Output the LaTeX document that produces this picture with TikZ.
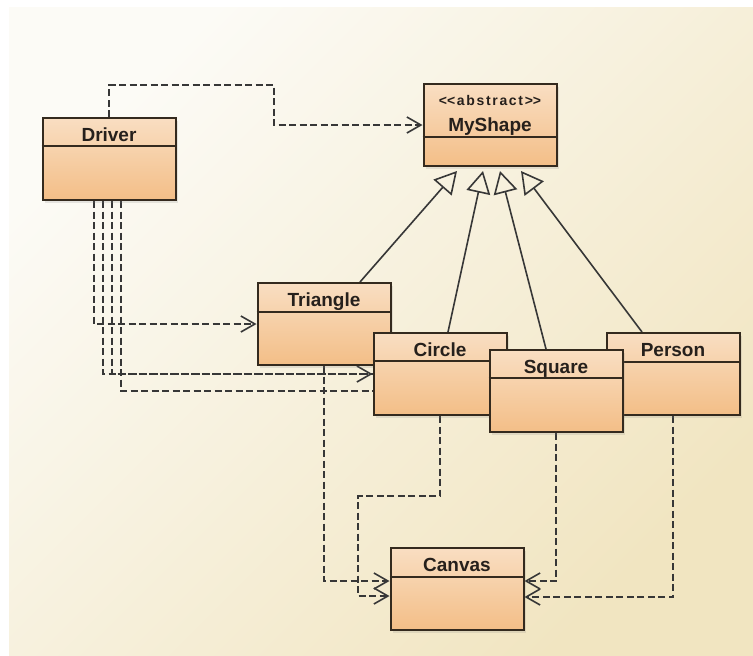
\documentclass[tikz,border=0pt]{standalone}
\usepackage{fontspec}
\setmainfont{Liberation Sans}
\newfontfamily\stereofont{Liberation Sans}[LetterSpace=12]
\usetikzlibrary{arrows.meta, positioning, calc, shadows, backgrounds}
\definecolor{ClassLine}{RGB}{52, 42, 30}
\definecolor{ClassTop}{RGB}{249, 222, 194}
\definecolor{ClassBottom}{RGB}{243, 190, 135}
\definecolor{LinkGray}{RGB}{55, 55, 55}
\definecolor{NameInk}{RGB}{38, 32, 28}
\definecolor{PanelLight}{RGB}{252, 251, 246}
\definecolor{PanelDark}{RGB}{241, 229, 193}

\tikzset{
  classbox/.style={draw=ClassLine, line width=2pt, top color=ClassTop, bottom color=ClassBottom,
    minimum width=133pt, minimum height=82pt, inner sep=0pt, anchor=north,
    drop shadow={shadow xshift=2.5pt, shadow yshift=-3pt, opacity=0.18}},
  classname/.style={font=\fontsize{19}{21}\selectfont\bfseries, text=NameInk, inner sep=0pt, anchor=base},
  stereo/.style={font=\fontsize{14}{16}\stereofont\bfseries, text=NameInk, inner sep=0pt, anchor=base},
  dep/.style={draw=LinkGray, line width=1.6pt, dash pattern=on 7pt off 3.5pt,
    -{Straight Barb[length=14pt, width=16pt]}},
  gen/.style={draw=LinkGray, line width=1.6pt, -{Triangle[open, length=22pt, width=24pt]}}
}

% name, centre x, top y, header height, baseline depth, label
\newcommand{\umlclass}[6]{%
  \node[classbox] (#1) at (#2,#3) {};
  \draw[ClassLine, line width=2pt] ([yshift=-#4pt]#1.north west) -- ([yshift=-#4pt]#1.north east);
  \node[classname] (#1Name) at ([yshift=-#5pt]#1.north) {#6};
}

\begin{document}
\begin{tikzpicture}[x=1pt, y=-1pt]
  \useasboundingbox (0,0) rectangle (753,656);
  % classes
  \umlclass{Driver}{109}{117}{29}{24}{Driver}
  \umlclass{MyShape}{490}{83}{54}{48}{MyShape}
  \node[stereo] (MyShapeTag) at ([yshift=-22pt]MyShape.north) {<\kern0pt<abstract>\kern0pt>};
  \umlclass{Triangle}{324}{282}{30}{24}{Triangle}
  \umlclass{Circle}{440}{332}{29}{24}{Circle}
  \umlclass{Person}{673}{332}{30}{24}{Person}
  \umlclass{Square}{556}{349}{29}{24}{Square}
  \umlclass{Canvas}{457}{547}{30}{24}{Canvas}

  \begin{scope}[on background layer]
    \shade[top color=PanelLight, bottom color=PanelDark, shading angle=45] (9,7) rectangle (753,656);
    % inheritance
    \foreach \child/\from/\to in {Triangle/36/-33, Circle/8/-7, Square/-10/10, Person/-31/31}
      \draw[gen] ([xshift=\from pt]\child.north) -- ([xshift=\to pt, yshift=-4pt]MyShape.south);
    % dependencies of Driver
    \coordinate (DriverBend) at (274,85);
    \draw[dep] (Driver.north) |- (DriverBend) |- (MyShape.west);
    \draw[dep] ([xshift=-15pt]Driver.south) |- (Triangle.west);
    \draw[dep] ([xshift=-6pt]Driver.south) |- (Circle.west);
    \draw[dep] ([xshift=3pt]Driver.south) |- (Person.west);
    \draw[dep] ([xshift=12pt]Driver.south) |- (Square.west);
    % dependencies on Canvas
    \coordinate (CircleBend) at (358,496);
    \draw[dep] (Triangle.south) |- ([yshift=8pt]Canvas.west);
    \draw[dep] (Circle.south) |- (CircleBend) |- ([yshift=-7pt]Canvas.west);
    \draw[dep] (Square.south) |- ([yshift=8pt]Canvas.east);
    \draw[dep] (Person.south) |- ([yshift=-8pt]Canvas.east);
  \end{scope}
\end{tikzpicture}
\end{document}
